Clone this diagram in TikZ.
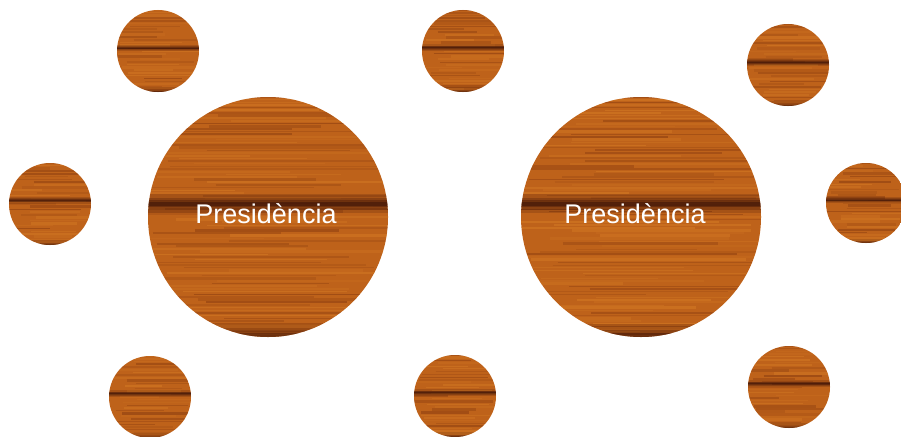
\documentclass[tikz,border=0pt]{standalone}
\usepackage{fontspec}
\setmainfont{Liberation Sans}
\definecolor{woodbase}{RGB}{190,98,26}
\definecolor{woodlight}{RGB}{216,126,38}
\definecolor{wooddark}{RGB}{132,56,14}
\definecolor{woodband}{RGB}{66,22,8}

\newcommand\woodgrain[3]{%
  \begin{scope}[shift={(path picture bounding box.center)}, x=#1pt, y=-#1pt]
  \fill[woodbase] (-1.1,-1.1) rectangle (1.1,1.1);
  \pgfmathsetseed{#2}
  \pgfmathtruncatemacro\nn{0.75*#1}
  \foreach \k in {0,...,\nn}{%
    \pgfmathsetmacro\yy{-1+\k*2/\nn}
    \pgfmathsetmacro\xa{-1.2+0.9*rnd}
    \pgfmathsetmacro\xb{\xa+0.9+1.3*rnd}
    \pgfmathtruncatemacro\pp{100*rnd}
    \pgfmathsetmacro\lw{0.6+2.2*rnd}
    \pgfmathsetmacro\op{0.15+0.35*rnd}
    \ifnum\pp<50 \def\cc{woodlight}\else\def\cc{wooddark}\fi
    \draw[\cc, line width=\lw pt, opacity=\op] (\xa,\yy) -- (\xb,\yy);
  }
  \foreach \w/\o in {0.16/0.2,0.10/0.28,0.06/0.4,0.03/0.6}{%
    \pgfmathsetmacro\ww{\w*#1}
    \draw[woodband, line width=\ww pt, opacity=\o] (-1.1,#3) -- (1.1,#3);}
  \foreach \w/\o in {0.22/0.18,0.12/0.28,0.06/0.4}{%
    \pgfmathsetmacro\ww{\w*#1}
    \draw[woodband, line width=\ww pt, opacity=\o] (-1.1,1) -- (1.1,1);}
  \end{scope}}

\tikzset{
  wood/.style n args={3}{circle, inner sep=0pt, outer sep=0pt,
    minimum size={2*#1pt}, path picture={\woodgrain{#1}{#2}{#3}}},
  tabletext/.style={text=white, inner sep=0pt, font=\fontsize{27}{30}\selectfont}
}

\begin{document}
\begin{tikzpicture}[x=1pt, y=-1pt]
\useasboundingbox (0,0) rectangle (901,436);
% big tables
\node[wood={120}{101}{-0.11}] (t1) at (268,217) {};
\node[wood={120}{202}{-0.11}] (t2) at (641,217) {};
\node[tabletext] (p1) at ([shift={(-2,-3)}]t1.center) {Presidència};
\node[tabletext] (p2) at ([shift={(-6,-3)}]t2.center) {Presidència};
% small seats
\node[wood={41}{11}{-0.07}] (s1) at (158,51) {};
\node[wood={41}{12}{-0.09}] (s2) at (50,204) {};
\node[wood={41}{13}{-0.08}] (s3) at (150,397) {};
\node[wood={41}{14}{-0.08}] (s4) at (463,51) {};
\node[wood={41}{15}{-0.08}] (s5) at (455,396) {};
\node[wood={41}{16}{-0.06}] (s6) at (788,65) {};
\node[wood={40}{17}{-0.07}] (s7) at (866,203) {};
\node[wood={41}{18}{-0.08}] (s8) at (789,387) {};
\end{tikzpicture}
\end{document}
